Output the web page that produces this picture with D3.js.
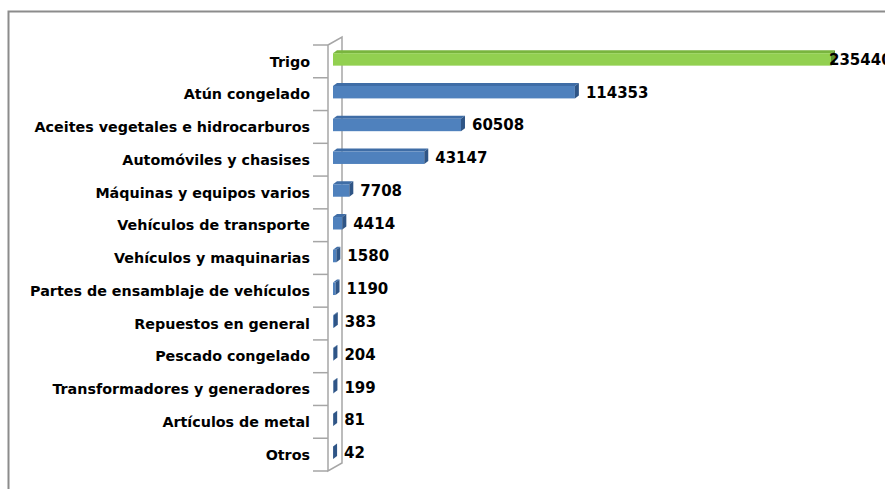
<!DOCTYPE html>
<html>
<head>
<meta charset="utf-8">
<script src="https://cdn.jsdelivr.net/npm/d3@7"></script>
<style>
  html, body { margin: 0; padding: 0; background: #fff; }
  svg { display: block; }
</style>
</head>
<body>
<svg id="chart" width="885" height="489"></svg>
<script>
// ── Data ──────────────────────────────────────────────────────────────────────
const categories = [
  'Trigo', 'Atún congelado', 'Aceites vegetales e hidrocarburos',
  'Automóviles y chasises', 'Máquinas y equipos varios', 'Vehículos de transporte',
  'Vehículos y maquinarias', 'Partes de ensamblaje de vehículos', 'Repuestos en general',
  'Pescado congelado', 'Transformadores y generadores', 'Artículos de metal', 'Otros'
];
const values = [235440, 114353, 60508, 43147, 7708, 4414, 1580, 1190, 383, 204, 199, 81, 42];
const highlight = ['Trigo'];

// ── Layout constants ─────────────────────────────────────────────────────────
const W = 885, H = 489;
const PLOT_LEFT = 333, PLOT_RIGHT = 831;
const PLOT_TOP = 45, PLOT_BOTTOM = 471;
const WALL_X = 328;
const DEPTH_X = 14, DEPTH_Y = 8;      // wall depth
const BAR_DX = 4, BAR_DY = 3;         // bar depth
const FONT = '"DejaVu Sans", Verdana, sans-serif';

const COLORS = {
  blue:  { front: '#4f81bd', top: '#3f6da6', side: '#2f5586' },
  green: { front: '#92d050', top: '#79b53e', side: '#5e9230' }
};

const svg = d3.select('#chart');

// ── Outer frame ──────────────────────────────────────────────────────────────
svg.append('path')
  .attr('d', `M8.5,${H} L8.5,11.5 L${W},11.5`)
  .attr('fill', 'none')
  .attr('stroke', '#8c8c8c')
  .attr('stroke-width', 2);

// ── Scales ───────────────────────────────────────────────────────────────────
const x = d3.scaleLinear().domain([0, 235440]).range([PLOT_LEFT, PLOT_RIGHT]);
const y = d3.scaleBand().domain(categories).range([PLOT_TOP, PLOT_BOTTOM]).padding(0);
const bw = y.bandwidth();

// ── Wall ─────────────────────────────────────────────────────────────────────
const wall = svg.append('g').attr('fill', 'none').attr('stroke', '#a6a6a6').attr('stroke-width', 1.5);
wall.append('path')
  .attr('d', `M${WALL_X},${PLOT_TOP} L${WALL_X},${PLOT_BOTTOM}
              L${WALL_X + DEPTH_X},${PLOT_BOTTOM - DEPTH_Y}
              L${WALL_X + DEPTH_X},${PLOT_TOP - DEPTH_Y}
              L${WALL_X},${PLOT_TOP}`);

// category ticks
const tickPos = categories.map(c => y(c)).concat([PLOT_BOTTOM]);
wall.selectAll('line.tick')
  .data(tickPos)
  .join('line')
  .attr('class', 'tick')
  .attr('x1', WALL_X - 15).attr('x2', WALL_X)
  .attr('y1', d => d).attr('y2', d => d);

// ── Bars ─────────────────────────────────────────────────────────────────────
const data = categories.map((c, i) => ({ cat: c, value: values[i] }));

const bars = svg.append('g').selectAll('g.bar')
  .data(data)
  .join('g')
  .attr('class', 'bar');

bars.each(function(d) {
  const g = d3.select(this);
  const col = highlight.includes(d.cat) ? COLORS.green : COLORS.blue;
  const x0 = x(0), x1 = x(d.value);
  const fy = y(d.cat) + bw * 0.25;
  const fh = bw * 0.38;
  // top face
  g.append('path')
    .attr('d', `M${x0},${fy} L${x0 + BAR_DX},${fy - BAR_DY} L${x1 + BAR_DX},${fy - BAR_DY} L${x1},${fy} Z`)
    .attr('fill', col.top);
  // front face
  g.append('rect')
    .attr('x', x0).attr('y', fy)
    .attr('width', Math.max(0, x1 - x0)).attr('height', fh)
    .attr('fill', col.front);
  // side face
  g.append('path')
    .attr('d', `M${x1},${fy} L${x1 + BAR_DX},${fy - BAR_DY} L${x1 + BAR_DX},${fy + fh - BAR_DY} L${x1},${fy + fh} Z`)
    .attr('fill', col.side);
});

// ── Data labels ──────────────────────────────────────────────────────────────
svg.append('g').selectAll('text')
  .data(data)
  .join('text')
  .attr('x', d => Math.min(x(d.value) + 11, 829))
  .attr('y', d => y(d.cat) + bw * 0.25 + bw * 0.19)
  .attr('dy', '0.36em')
  .attr('font-family', FONT)
  .attr('font-weight', 'bold')
  .attr('font-size', 15)
  .attr('fill', '#000')
  .text(d => d.value);

// ── Category labels ──────────────────────────────────────────────────────────
svg.append('g').selectAll('text')
  .data(categories)
  .join('text')
  .attr('x', 310)
  .attr('y', d => y(d) + bw / 2)
  .attr('dy', '0.36em')
  .attr('text-anchor', 'end')
  .attr('font-family', FONT)
  .attr('font-weight', 'bold')
  .attr('font-size', 14.3)
  .attr('fill', '#000')
  .text(d => d);
</script>
</body>
</html>
